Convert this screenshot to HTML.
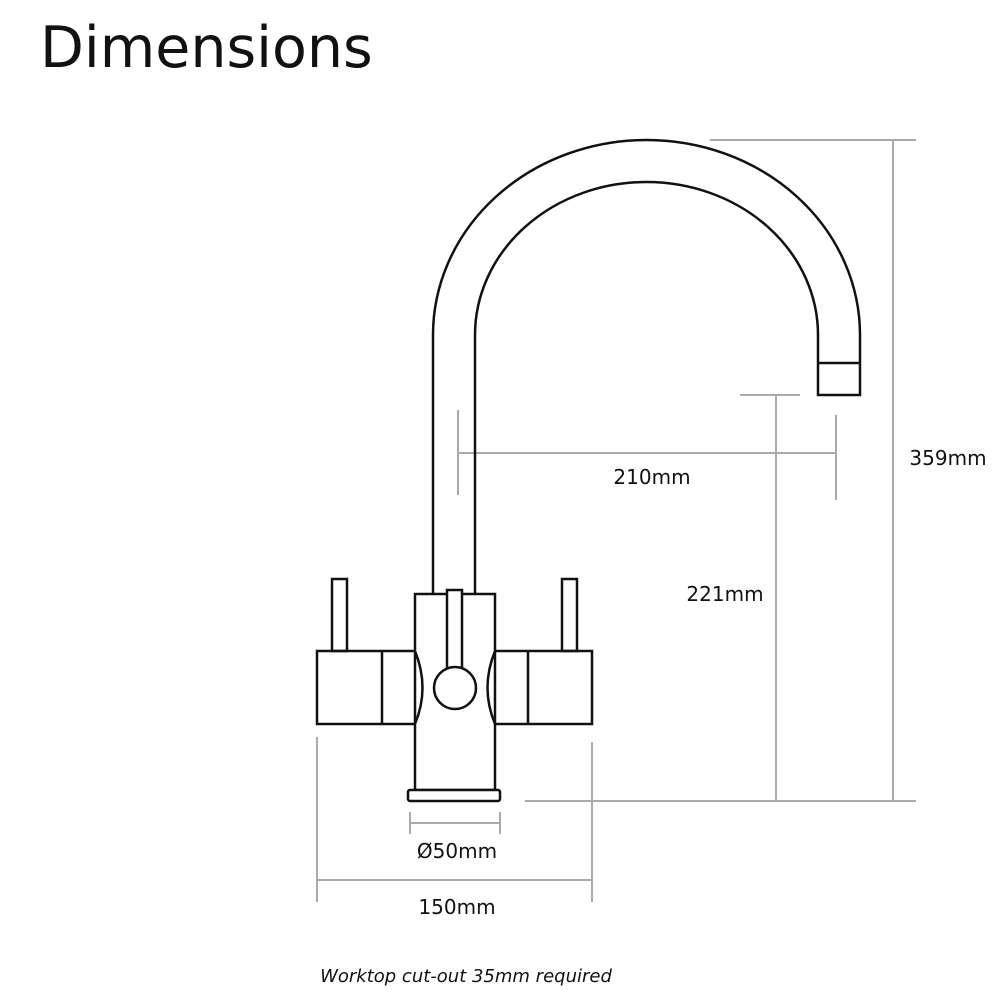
<!DOCTYPE html>
<html><head><meta charset="utf-8"><style>
html,body{margin:0;padding:0;background:#fff;}
svg{display:block;}
text{font-family:"DejaVu Sans","Liberation Sans",sans-serif;fill:#111;}
</style></head><body>
<svg width="1000" height="1000" viewBox="0 0 1000 1000" xmlns="http://www.w3.org/2000/svg">
<text x="40" y="67" font-size="57" style="font-family:'DejaVu Sans','Liberation Sans',sans-serif">Dimensions</text>
<g stroke="#aaa" stroke-width="2" fill="none">
<line x1="710" y1="140" x2="916" y2="140"/>
<line x1="893" y1="140" x2="893" y2="801"/>
<line x1="525" y1="801" x2="916" y2="801"/>
<line x1="740" y1="395" x2="800" y2="395"/>
<line x1="776" y1="395" x2="776" y2="801"/>
<line x1="458" y1="410" x2="458" y2="495"/>
<line x1="836" y1="415" x2="836" y2="500"/>
<line x1="458" y1="453" x2="836" y2="453"/>
<line x1="317" y1="737" x2="317" y2="902"/>
<line x1="592" y1="742" x2="592" y2="902"/>
<line x1="317" y1="880" x2="592" y2="880"/>
<line x1="410" y1="812" x2="410" y2="834"/>
<line x1="500" y1="812" x2="500" y2="834"/>
<line x1="410" y1="823" x2="500" y2="823"/>
</g>
<g stroke="#111" stroke-width="2.5" fill="none">
<path d="M433 594 L433 335 A213.5 195 0 0 1 860 335 L860 395 L818 395 L818 335 A171.5 153 0 0 0 475 335 L475 594"/>
<line x1="818" y1="363" x2="860" y2="363"/>
<rect x="332" y="579" width="15" height="72"/>
<rect x="562" y="579" width="15" height="72"/>
<rect x="317" y="651" width="98" height="73"/>
<line x1="382" y1="651" x2="382" y2="724"/>
<rect x="495" y="651" width="97" height="73"/>
<line x1="528" y1="651" x2="528" y2="724"/>
<path d="M415 594 L495 594 L495 651 Q480 688 495 724 L495 790 L415 790 L415 724 Q430 688 415 651 Z" fill="#fff"/>
<rect x="447" y="590" width="15" height="78" fill="#fff"/>
<circle cx="455" cy="688" r="21" fill="#fff"/>
<rect x="408" y="790" width="92" height="11" rx="2" fill="#fff"/>
</g>
<g font-size="20" text-anchor="middle">
<text x="652" y="484">210mm</text>
<text x="725" y="601">221mm</text>
<text x="948" y="465">359mm</text>
<text x="457" y="858">Ø50mm</text>
<text x="457" y="914">150mm</text>
</g>
<text x="466" y="982" font-size="18" font-style="italic" text-anchor="middle">Worktop cut-out 35mm required</text>
</svg>
</body></html>
